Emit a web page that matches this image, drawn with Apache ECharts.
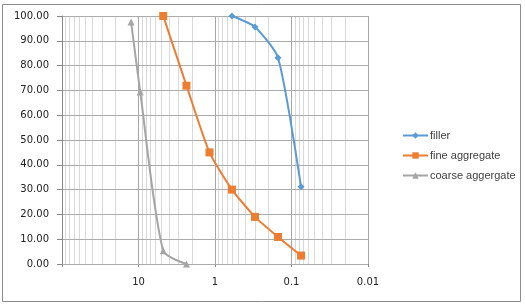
<!DOCTYPE html>
<html>
<head>
<meta charset="utf-8">
<script src="https://cdn.jsdelivr.net/npm/echarts@6/dist/echarts.min.js"></script>
<style>
  html, body { margin: 0; padding: 0; background: #fff; }
  #chart { width: 525px; height: 304px; }
</style>
</head>
<body>
<div id="chart"></div>
<script>
// sieve size (mm) vs percent passing
const fillerSize = [0.6, 0.3, 0.15, 0.075];
const fillerPass = [100, 95.6, 83.2, 31.1];

const fineSize = [4.75, 2.36, 1.18, 0.6, 0.3, 0.15, 0.075];
const finePass = [100, 71.9, 45.0, 30.0, 19.0, 10.9, 3.4];

const coarseSize = [12.5, 9.5, 4.75, 2.36];
const coarsePass = [97.6, 69.4, 5.3, 0];

// minor vertical gridlines (2..9 of each decade)
const minorTicks = [];
[0.01, 0.1, 1, 10].forEach(d => {
    for (let k = 2; k <= 9; k++) minorTicks.push(+(d * k).toPrecision(3));
});

const pairs = (xs, ys) => xs.map((x, i) => [x, ys[i]]);

let myChart = echarts.init(document.getElementById('chart'));
let option = {
    animation: false,
    textStyle: { fontFamily: 'DejaVu Sans' },
    graphic: [{
        type: 'rect',
        shape: { x: 2.5, y: 4.5, width: 518, height: 297 },
        style: { fill: 'none', stroke: '#8c8c8c', lineWidth: 1 },
        silent: true
    }],
    grid: { left: 62, right: 157, top: 16, bottom: 40 },
    legend: {
        orient: 'vertical',
        left: 397,
        top: 125,
        itemWidth: 25,
        itemHeight: 8,
        itemGap: 9,
        textStyle: { fontFamily: 'Liberation Sans', fontSize: 11, color: '#404040', padding: [0, 0, 0, -3] },
        data: ['filler', 'fine aggregate', 'coarse aggergate']
    },
    xAxis: {
        type: 'log',
        logBase: 10,
        min: 0.01,
        max: 100,
        inverse: true,
        z: 0,
        axisLine: { show: true, lineStyle: { color: '#888', width: 1 } },
        axisTick: { show: true, length: 3, lineStyle: { color: '#888' } },
        axisLabel: {
            margin: 13,
            fontSize: 10,
            color: '#222',
            formatter: v => (v >= 99 ? '' : String(+v.toPrecision(3)))
        },
        splitLine: { show: true, lineStyle: { color: '#a6a6a6', width: 1 } }
    },
    yAxis: {
        type: 'value',
        min: 0,
        max: 100,
        interval: 10,
        z: 2,
        axisLine: { show: true, lineStyle: { color: '#888', width: 1 } },
        axisTick: { show: true, length: 5, lineStyle: { color: '#888' } },
        axisLabel: {
            margin: 13,
            fontSize: 10,
            color: '#222',
            formatter: v => v.toFixed(2)
        },
        splitLine: { show: true, lineStyle: { color: '#ababab', width: 1 } }
    },
    series: [
        {
            name: 'minor',
            type: 'line',
            data: [],
            z: 1,
            silent: true,
            markLine: {
                z: 1,
                silent: true,
                symbol: ['none', 'none'],
                label: { show: false },
                lineStyle: { color: '#d9d9d9', width: 1, type: 'solid' },
                data: minorTicks.map(v => ({ xAxis: v }))
            }
        },
        {
            name: 'filler',
            type: 'line',
            z: 3,
            smooth: 0.2,
            data: pairs(fillerSize, fillerPass),
            symbol: 'diamond',
            symbolSize: 7,
            color: '#5b9bd5',
            lineStyle: { width: 2 }
        },
        {
            name: 'fine aggregate',
            type: 'line',
            z: 3,
            smooth: 0.2,
            data: pairs(fineSize, finePass),
            symbol: 'rect',
            symbolSize: 8,
            color: '#ed7d31',
            lineStyle: { width: 2 }
        },
        {
            name: 'coarse aggergate',
            type: 'line',
            z: 3,
            smooth: 0.25,
            data: pairs(coarseSize, coarsePass),
            symbol: 'triangle',
            symbolSize: 7,
            color: '#a5a5a5',
            lineStyle: { width: 2 }
        }
    ]
};
myChart.setOption(option);
</script>
</body>
</html>
